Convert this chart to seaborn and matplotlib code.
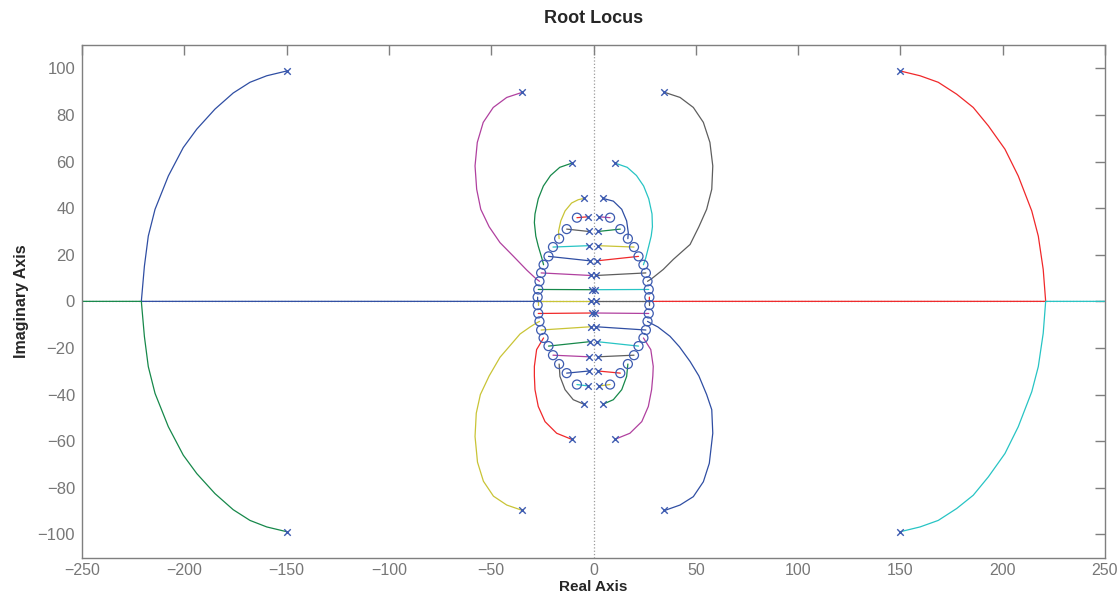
import pandas as pd
import matplotlib
matplotlib.use('Agg')
import matplotlib.pyplot as plt
import seaborn as sns

# poles (x) and zeros (o)
pole_x = [-149.7, 149.7, -34.8, 34.7, -10.6, 10.6, -4.5, 4.5, -2.6, 2.6, -2.4, 2.4,
          -2.0, 2.0, -1.8, 1.8, -1.3, 1.3, -0.5, 0.5, -1.0, 1.0,
          -149.7, 149.7, -34.8, 34.7, -10.6, 10.6, -4.5, 4.5, -2.6, 2.6, -2.4, 2.4,
          -2.0, 2.0, -1.8, 1.8, -1.3, 1.3, -0.5, 0.5]
pole_y = [98.9, 98.9, 89.7, 89.7, 59.3, 59.3, 44.2, 44.2, 36.3, 36.3, 30.0, 30.0,
          23.9, 23.9, 17.4, 17.4, 11.1, 11.1, 5.0, 5.0, 0.0, 0.0,
          -98.9, -98.9, -89.7, -89.7, -59.2, -59.2, -44.2, -44.2, -36.3, -36.3, -29.9, -29.9,
          -23.8, -23.8, -17.3, -17.3, -10.9, -10.9, -5.0, -5.0]

zero_x = [-8.1, -13.1, -16.8, -19.8, -22.0, -24.4, -25.6, -26.4, -27.0, -27.3,
          8.1, 13.1, 16.8, 19.8, 22.0, 24.4, 25.6, 26.4, 27.0, 27.3,
          -8.1, -13.1, -16.8, -19.8, -22.0, -24.4, -25.6, -26.4, -27.0, -27.3,
          8.1, 13.1, 16.8, 19.8, 22.0, 24.4, 25.6, 26.4, 27.0, 27.3]
zero_y = [35.9, 31.0, 26.9, 23.3, 19.3, 15.7, 12.2, 8.6, 5.1, 1.8,
          35.9, 31.0, 26.9, 23.3, 19.3, 15.7, 12.2, 8.6, 5.1, 1.8,
          -35.7, -30.8, -26.9, -23.1, -19.2, -15.7, -12.3, -8.6, -5.2, -1.6,
          -35.7, -30.8, -26.9, -23.1, -19.2, -15.7, -12.3, -8.6, -5.2, -1.6]

# branches, pole -> zero
# near-horizontal ones, upper half
row_u1_red = [(-2.6, 36.3), (-8.1, 35.9)]
row_u1_purple = [(2.6, 36.3), (8.1, 35.9)]
row_u2_gray = [(-2.4, 30.0), (-13.1, 31.0)]
row_u2_green = [(2.4, 30.0), (13.1, 31.0)]
row_u3_cyan = [(-2.0, 23.9), (-19.8, 23.3)]
row_u3_yellow = [(2.0, 23.9), (19.8, 23.3)]
row_u4_blue = [(-1.8, 17.4), (-22.0, 19.3)]
row_u4_red = [(1.8, 17.4), (22.0, 19.3)]
row_u5_purple = [(-1.3, 11.1), (-25.6, 12.2)]
row_u5_gray = [(1.3, 11.1), (25.6, 12.2)]
row_u6_green = [(-0.5, 5.0), (-27.0, 5.1)]
row_u6_cyan = [(0.5, 5.0), (27.0, 5.1)]
real_yellow = [(-1.0, 0.0), (-27.3, 0.0), (-27.3, -1.6)]
real_gray = [(1.0, 0.0), (27.3, 0.0), (27.3, -1.6)]
# near-horizontal ones, lower half
row_l1_red = [(-0.5, -5.0), (-27.0, -5.2)]
row_l1_purple = [(0.5, -5.0), (27.0, -5.2)]
row_l2_yellow = [(-1.3, -10.9), (-25.6, -12.3)]
row_l2_blue = [(1.3, -10.9), (25.6, -12.3)]
row_l3_green = [(-1.8, -17.3), (-22.0, -19.2)]
row_l3_cyan = [(1.8, -17.3), (22.0, -19.2)]
row_l4_purple = [(-2.0, -23.8), (-19.8, -23.1)]
row_l4_gray = [(2.0, -23.8), (19.8, -23.1)]
row_l5_blue = [(-2.4, -29.9), (-13.1, -30.8)]
row_l5_red = [(2.4, -29.9), (13.1, -30.8)]
row_l6_cyan = [(-2.6, -36.3), (-8.1, -35.7)]
row_l6_yellow = [(2.6, -36.3), (8.1, -35.7)]

# curved branches, upper half
arc_u_purple = [(-34.8, 89.7), (-42.4, 87.5), (-49.0, 83.2), (-53.9, 76.8), (-56.8, 68.2),
                (-57.9, 58.1), (-57.1, 48.1), (-55.1, 39.5), (-51.0, 32.0), (-45.7, 25.2),
                (-39.2, 19.4), (-32.6, 13.4), (-28.1, 9.7), (-26.4, 8.6)]
arc_u_gray = [(34.7, 89.7), (42.3, 87.5), (48.8, 83.2), (53.7, 76.8), (56.9, 68.2),
              (58.3, 58.1), (57.8, 48.1), (55.3, 39.5), (51.5, 32.0), (47.2, 24.4),
              (39.0, 18.0), (34.1, 13.7), (28.4, 9.7), (26.4, 8.6)]
arc_u_green = [(-10.6, 59.3), (-16.5, 57.5), (-21.0, 54.0), (-24.5, 49.5), (-27.0, 44.0),
               (-28.6, 37.5), (-28.9, 33.8), (-28.2, 28.0), (-27.0, 23.7), (-25.3, 18.7),
               (-24.4, 15.7)]
arc_u_cyan = [(10.6, 59.3), (16.5, 57.5), (21.0, 54.0), (24.5, 49.5), (27.0, 44.0),
              (28.6, 37.5), (28.8, 32.0), (28.2, 28.0), (27.0, 23.7), (25.5, 18.5),
              (24.4, 15.7)]
arc_u_yellow = [(-4.5, 44.2), (-7.5, 43.6), (-10.7, 42.2), (-13.9, 38.8), (-16.0, 34.5),
                (-17.1, 30.0), (-16.8, 26.9)]
arc_u_blue = [(4.5, 44.2), (9.7, 43.0), (13.8, 39.5), (16.2, 34.5), (17.0, 29.5), (16.8, 26.9)]
big_blue = [(-149.7, 98.9), (-159.7, 96.8), (-167.9, 94.0), (-176.1, 89.4), (-185.0, 82.5),
            (-193.9, 73.9), (-200.5, 66.0), (-207.8, 53.8), (-214.3, 39.5), (-217.6, 28.0),
            (-219.5, 15.1), (-221.0, 0.0), (-27.3, 0.0), (-27.3, 1.8)]
big_red = [(149.7, 98.9), (159.6, 96.8), (168.5, 94.0), (177.5, 88.9), (185.6, 83.2),
           (193.0, 75.3), (201.1, 65.3), (207.6, 53.8), (214.2, 38.8), (217.4, 28.0),
           (219.8, 13.7), (221.0, 0.0), (27.3, 0.0), (27.3, 1.8)]

# curved branches, lower half
arc_l_yellow = [(-34.8, -89.7), (-42.4, -87.4), (-48.9, -83.6), (-53.8, -77.2), (-56.7, -69.0),
                (-57.9, -58.0), (-57.3, -48.0), (-55.3, -40.0), (-51.0, -32.0), (-45.7, -24.0),
                (-40.0, -18.2), (-35.9, -14.0), (-31.0, -11.0), (-28.1, -9.4), (-26.4, -8.6)]
arc_l_blue = [(34.9, -89.7), (42.3, -87.4), (48.8, -83.8), (53.7, -77.4), (56.6, -69.5),
              (58.3, -56.6), (57.8, -46.5), (55.3, -40.0), (51.5, -32.0), (47.2, -25.8),
              (42.0, -19.5), (37.4, -15.0), (31.5, -11.0), (27.6, -9.2), (26.4, -8.6)]
arc_l_red = [(-10.7, -59.2), (-18.0, -56.6), (-23.7, -51.6), (-27.0, -45.1), (-28.6, -37.9),
             (-28.9, -32.0), (-28.9, -27.9), (-27.8, -20.7), (-24.4, -15.7)]
arc_l_purple = [(10.5, -59.2), (17.8, -56.6), (23.6, -51.6), (26.8, -45.1), (28.4, -37.9),
                (29.0, -32.0), (29.2, -27.9), (28.0, -20.7), (24.4, -15.7)]
arc_l_gray = [(-4.5, -44.2), (-9.9, -42.2), (-13.9, -37.9), (-16.4, -32.2), (-16.8, -26.9)]
arc_l_green = [(4.5, -44.2), (9.7, -42.2), (13.8, -37.9), (16.2, -32.2), (16.8, -26.9)]
big_green = [(-149.7, -98.9), (-159.7, -96.8), (-167.9, -94.0), (-176.1, -89.4), (-185.0, -82.5),
             (-193.9, -73.9), (-200.5, -66.0), (-207.8, -53.8), (-214.3, -39.5), (-217.6, -28.0),
             (-219.5, -15.1), (-221.0, 0.0), (-260.0, 0.0)]
big_cyan = [(149.7, -98.9), (159.6, -96.8), (168.5, -94.0), (177.5, -88.9), (185.6, -83.2),
            (193.0, -75.3), (201.1, -65.3), (207.6, -53.8), (214.2, -38.8), (217.4, -28.0),
            (219.8, -13.7), (221.0, 0.0), (260.0, 0.0)]

xticks = [-250, -200, -150, -100, -50, 0, 50, 100, 150, 200, 250]
yticks = [-100, -80, -60, -40, -20, 0, 20, 40, 60, 80, 100]

# matlab-ish line colours
C = {
    'blue': '#2f4ea3', 'green': '#16884a', 'red': '#f0282a', 'cyan': '#27c4c4',
    'purple': '#b0409f', 'yellow': '#c9c436', 'gray': '#5e5e5e',
}
mark_col = '#3d5bb0'

branches = [
    (big_blue, 'blue'), (big_green, 'green'), (big_red, 'red'), (big_cyan, 'cyan'),
    (real_yellow, 'yellow'), (real_gray, 'gray'),
    (arc_u_purple, 'purple'), (arc_u_gray, 'gray'), (arc_u_green, 'green'), (arc_u_cyan, 'cyan'),
    (arc_u_yellow, 'yellow'), (arc_u_blue, 'blue'),
    (arc_l_yellow, 'yellow'), (arc_l_blue, 'blue'), (arc_l_red, 'red'), (arc_l_purple, 'purple'),
    (arc_l_gray, 'gray'), (arc_l_green, 'green'),
    (row_u1_red, 'red'), (row_u1_purple, 'purple'), (row_u2_gray, 'gray'), (row_u2_green, 'green'),
    (row_u3_cyan, 'cyan'), (row_u3_yellow, 'yellow'), (row_u4_blue, 'blue'), (row_u4_red, 'red'),
    (row_u5_purple, 'purple'), (row_u5_gray, 'gray'), (row_u6_green, 'green'), (row_u6_cyan, 'cyan'),
    (row_l1_red, 'red'), (row_l1_purple, 'purple'), (row_l2_yellow, 'yellow'), (row_l2_blue, 'blue'),
    (row_l3_green, 'green'), (row_l3_cyan, 'cyan'), (row_l4_purple, 'purple'), (row_l4_gray, 'gray'),
    (row_l5_blue, 'blue'), (row_l5_red, 'red'), (row_l6_cyan, 'cyan'), (row_l6_yellow, 'yellow'),
]

sns.set_style('white')
plt.rcParams['font.family'] = ['Liberation Sans', 'DejaVu Sans']

fig = plt.figure(figsize=(11.18, 5.94), dpi=100)
ax = fig.add_axes([82 / 1118, 1 - 557.7 / 594, (1105 - 82) / 1118, (557.7 - 45) / 594])

# dotted axes through the origin
ax.axvline(0, color='#9a9a9a', ls=':', lw=0.9, zorder=0)
ax.axhline(0, color='#9a9a9a', ls=':', lw=0.9, zorder=0)

for pts, cname in branches:
    df = pd.DataFrame(pts, columns=['re', 'im'])
    sns.lineplot(data=df, x='re', y='im', sort=False, estimator=None,
                 color=C[cname], lw=0.9, ax=ax, zorder=2)

sns.scatterplot(x=zero_x, y=zero_y, marker='o', s=42, facecolor='none',
                edgecolor=mark_col, linewidth=0.9, ax=ax, zorder=3)
sns.scatterplot(x=pole_x, y=pole_y, marker='x', s=22, color=mark_col,
                linewidth=1.0, ax=ax, zorder=4)

ax.set_xlim(-250, 250)
ax.set_ylim(-110, 110)
ax.set_xticks(xticks)
ax.set_yticks(yticks)
ax.set_xticklabels([str(t).replace('-', '\u2212') for t in xticks])
ax.set_yticklabels([str(t).replace('-', '\u2212') for t in yticks])

gray = '#7f7f7f'
for s in ax.spines.values():
    s.set_color(gray)
    s.set_linewidth(1.0)
ax.tick_params(direction='in', length=7, width=1.0, color=gray, labelcolor='#777777',
               labelsize=12, top=True, right=True, pad=5)
ax.tick_params(axis='x', pad=4, labelsize=11.5)

ax.set_title('Root Locus', fontsize=13, fontweight='bold', pad=16)
ax.set_xlabel('Real Axis', fontsize=11, fontweight='bold', labelpad=1)
ax.set_ylabel('Imaginary Axis', fontsize=11.5, fontweight='bold', labelpad=6)

fig.savefig('out.png', dpi=100)
